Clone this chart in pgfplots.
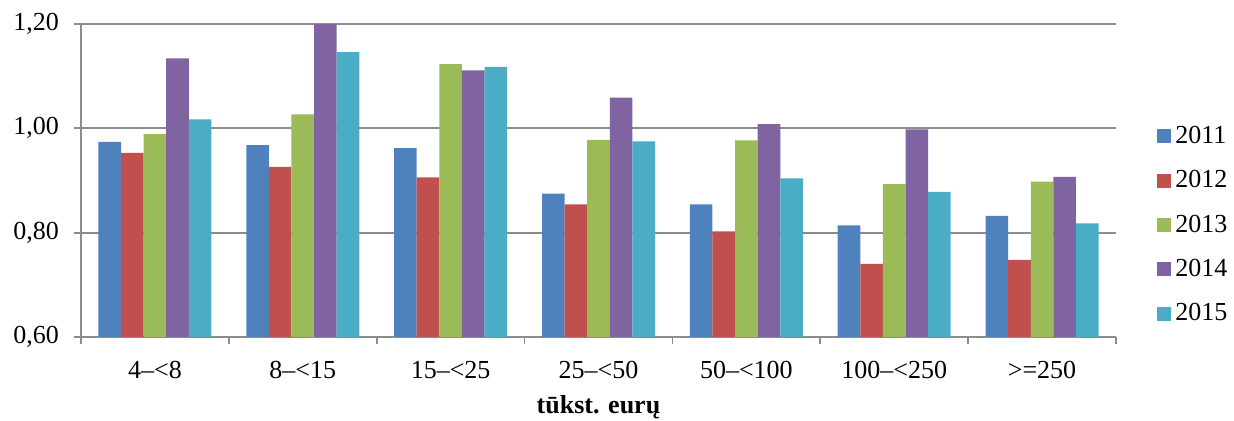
\documentclass[border=0pt]{standalone}
\usepackage{pgfplots}
\pgfplotsset{compat=1.18}
\usepackage{fontspec}
\setmainfont{Liberation Serif}
\definecolor{c1}{HTML}{4F81BD}
\definecolor{c2}{HTML}{C0504D}
\definecolor{c3}{HTML}{9BBB59}
\definecolor{c4}{HTML}{8064A2}
\definecolor{c5}{HTML}{4BACC6}
\definecolor{ax}{HTML}{8C8C8C}
\begin{document}
\begin{tikzpicture}
\path[use as bounding box] (-40.5pt,-42pt) rectangle (576.5pt,168.5pt);
\begin{axis}[
  at={(0,0)}, anchor=south west,
  scale only axis, width=517.5pt, height=156.5pt,
  ybar=0pt, bar width=11.3pt,
  xmin=-0.5, xmax=6.5, ymin=0.6, ymax=1.2,
  axis x line*=bottom, axis y line*=left,
  axis line style={ax, line width=0.9pt},
  xtick={0,...,6},
  xticklabels={4–<8, 8–<15, 15–<25, 25–<50, 50–<100, 100–<250, >=250},
  minor xtick={-0.5,0.5,...,6.5},
  ytick={0.6,0.8,1.0,1.2},
  yticklabels={{0,60},{0,80},{1,00},{1,20}},
  ymajorgrids, grid style={ax, line width=0.9pt},
  tick align=outside, major tick length=3.5pt, minor tick length=3.5pt,
  major x tick style={draw=none},
  tick style={ax, line width=0.9pt},
  ticklabel style={font=\fontsize{13}{15}\selectfont},
  xticklabel style={yshift=-5pt},
  yticklabel style={xshift=-4pt},
  xlabel={\textbf{tūkst. eurų}},
  xlabel style={font=\fontsize{13}{15}\selectfont, yshift=-1.5pt},
  legend style={draw=none, at={(1,0.358)}, anchor=west, xshift=20.5pt,
    font=\fontsize{13}{15}\selectfont, inner sep=0pt, row sep=8pt,
    cells={anchor=west}},
  legend image code/.code={\fill (0pt,-3.5pt) rectangle (7pt,3.5pt);},
]
\addplot[fill=c1, draw=none] coordinates {(0,0.974) (1,0.968) (2,0.962) (3,0.875) (4,0.854) (5,0.814) (6,0.832)};
\addplot[fill=c2, draw=none] coordinates {(0,0.953) (1,0.926) (2,0.906) (3,0.854) (4,0.8025) (5,0.740) (6,0.748)};
\addplot[fill=c3, draw=none] coordinates {(0,0.989) (1,1.027) (2,1.123) (3,0.978) (4,0.977) (5,0.893) (6,0.898)};
\addplot[fill=c4, draw=none] coordinates {(0,1.134) (1,1.200) (2,1.111) (3,1.059) (4,1.008) (5,0.998) (6,0.907)};
\addplot[fill=c5, draw=none] coordinates {(0,1.017) (1,1.146) (2,1.118) (3,0.975) (4,0.904) (5,0.878) (6,0.818)};
\legend{2011,2012,2013,2014,2015}
\end{axis}
\end{tikzpicture}
\end{document}
